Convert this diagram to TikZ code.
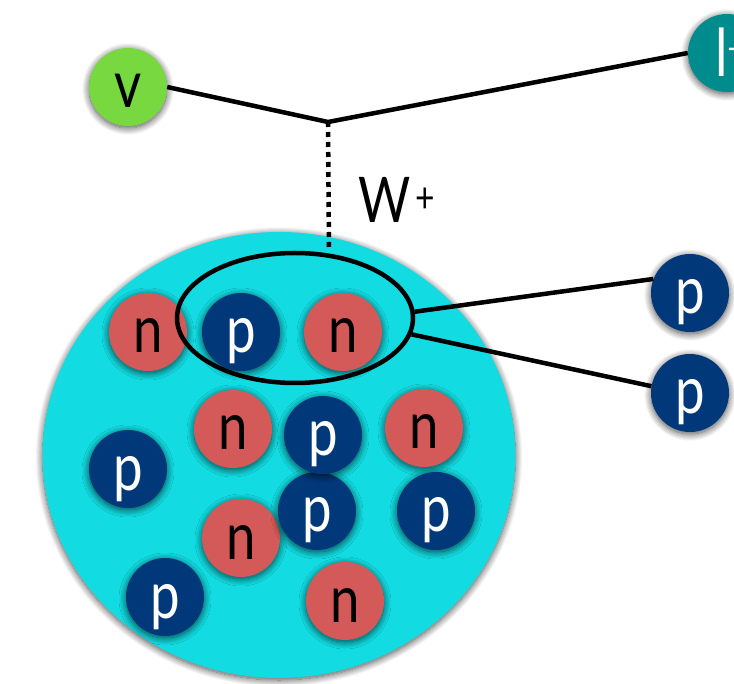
\documentclass[tikz,border=0pt]{standalone}
\usepackage{fontspec}
\setmainfont{Lato}[FakeStretch=0.8]
\usetikzlibrary{shapes.geometric,shadows.blur}
\definecolor{nuccol}{RGB}{18,220,226}
\definecolor{ncol}{RGB}{211,90,88}
\definecolor{pcol}{RGB}{0,56,122}
\definecolor{nucol}{RGB}{119,217,63}
\definecolor{lepcol}{RGB}{0,140,140}
\begin{document}
\begin{tikzpicture}[x=1pt,y=-1pt,
  shad/.style={blur shadow={shadow xshift=0pt, shadow yshift=-2pt, shadow blur radius=7pt, shadow opacity=70, shadow blur steps=14}},
  ball/.style={circle, minimum size=78pt, inner sep=0pt, shad, font=\fontsize{66}{66}\selectfont, text height=42pt, text depth=0pt},
  neut/.style={ball, fill=ncol, text=black},
  prot/.style={ball, fill=pcol, text=white},
  thick line/.style={line width=4.5pt}
]
\clip (0,0) rectangle (734,684);
% nucleus
\node[ellipse, fill=nuccol, minimum width=473pt, minimum height=446pt, inner sep=0pt, shad] (nucleus) at (279,455) {};
% nucleons
\node[neut] (n1) at (148,332) {n};
\node[prot] (p1) at (241,332) {p};
\node[neut] (n2) at (343,332) {n};
\node[neut] (n3) at (233,429) {n};
\node[neut] (n4) at (424,428) {n};
\node[prot] (p2) at (128,469) {p};
\node[neut] (n5) at (241,538) {n};
\node[prot] (p4) at (317,511) {p};
\node[prot] (p3) at (323,435) {p};
\node[prot] (p5) at (436,511) {p};
\node[prot] (p6) at (165,597) {p};
\node[neut] (n6) at (345,601) {n};
% group ellipse
\node[ellipse, draw, line width=4.5pt, minimum width=236pt, minimum height=130pt, inner sep=0pt] (grp) at (295,318) {};
% outgoing protons
\node[prot] (pR1) at (690,293) {p};
\node[prot] (pR2) at (690,393) {p};
% leptons
\node[ball, fill=nucol, text=black] (nu) at (128,87) {v};
\node[ball, fill=lepcol] (lep) at (727,53) {};
\node[anchor=base west, text=white, font=\fontsize{66}{66}\selectfont, inner sep=0pt] (leplab) at (715,77) {l\raisebox{15pt}{\fontsize{36}{36}\selectfont+}};
% vertex
\coordinate (vtx) at (328,122);
\coordinate (wend) at (329,250);
\draw[thick line, line join=round] (nu.east) -- (vtx) -- (lep.west);
\draw[thick line, dash pattern=on 5pt off 5pt] (vtx) -- (wend);
\node[anchor=base west, font=\fontsize{63}{63}\selectfont, inner sep=0pt] (wlab) at (358,223) {W\kern5pt\raisebox{10pt}{\fontsize{42}{42}\selectfont+}};
% lines to outgoing protons
\draw[thick line] (grp.3) -- (pR1.159);
\draw[thick line] (grp.-8) -- (pR2.170);
\end{tikzpicture}
\end{document}
